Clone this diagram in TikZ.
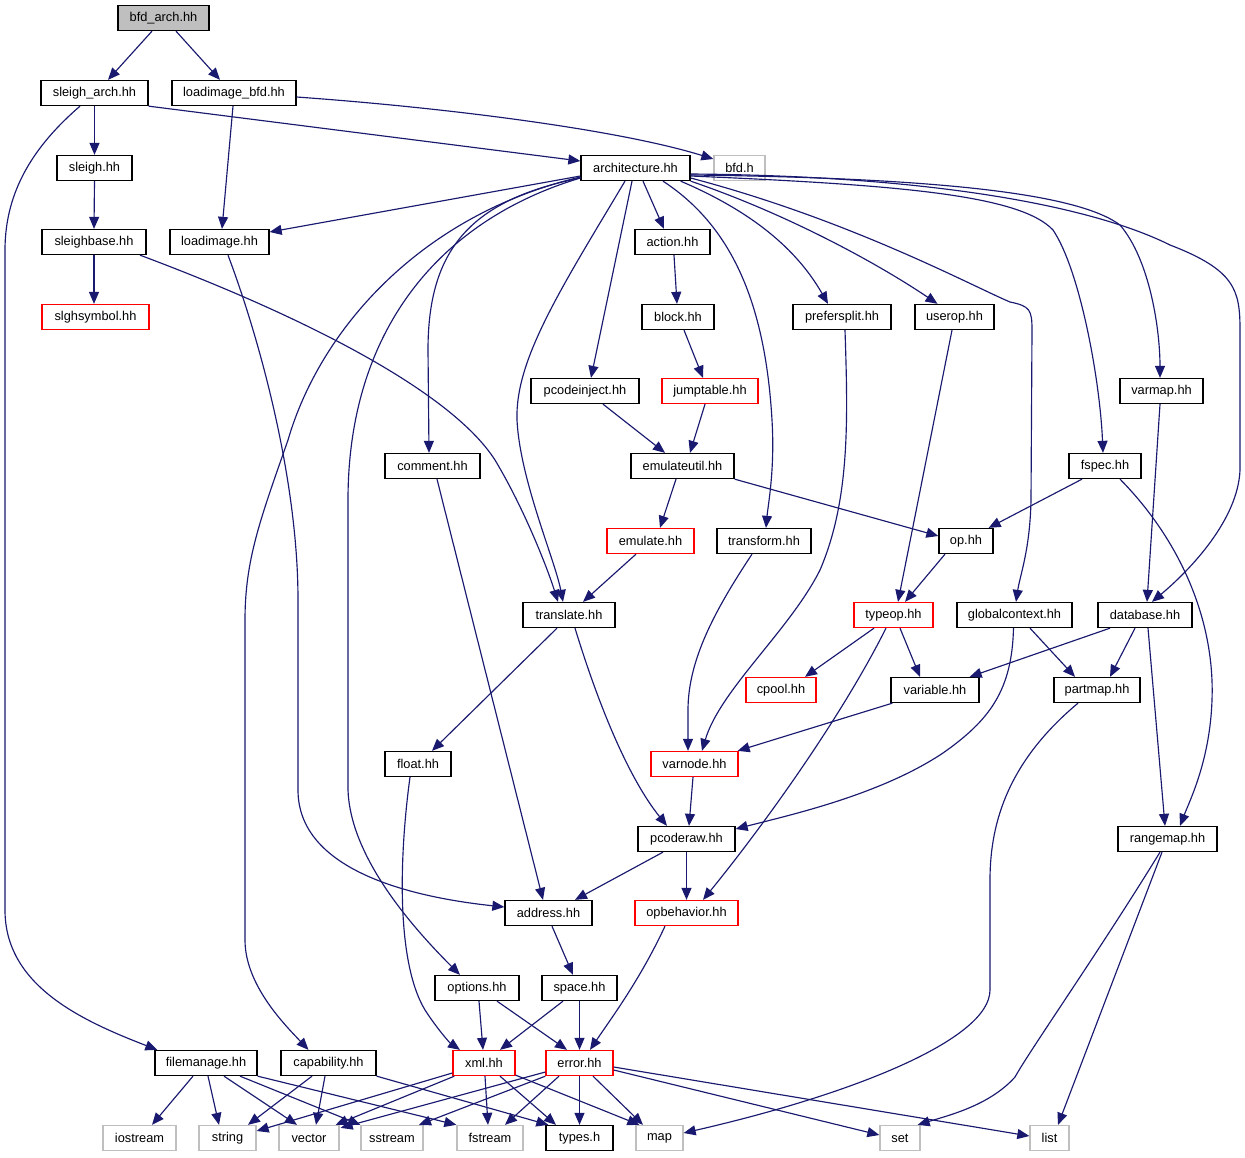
\documentclass[tikz,border=0pt]{standalone}
\usepackage{fontspec}
\setmainfont{Liberation Sans}
\usetikzlibrary{arrows.meta,calc}
\definecolor{edgeblue}{RGB}{25,25,112}
\definecolor{sysgray}{RGB}{191,191,191}
\definecolor{redline}{RGB}{255,0,0}
\tikzset{
  box/.style={rectangle, draw=black, line width=1.3pt, minimum height=25pt, inner sep=0pt,
    font=\fontsize{12.8}{14}\selectfont, text=black},
  redbox/.style={box, draw=redline},
  sysbox/.style={box, draw=sysgray},
  edge/.style={draw=edgeblue, line width=1.15pt, -{Triangle[length=12pt,width=10pt]}}
}
\begin{document}
\begin{tikzpicture}[x=1pt,y=-1pt]
\useasboundingbox[fill=white] (0,0) rectangle (1245,1157);
% row 18
\node[box,fill=sysgray,minimum width=91] (bfdarch) at (163.5,18) {bfd\_arch.hh};
% row 93
\node[box,minimum width=107] (sleigharch) at (94.5,93) {sleigh\_arch.hh};
\node[box,minimum width=124] (loadimagebfd) at (234,93) {loadimage\_bfd.hh};
% row 168
\node[box,minimum width=75] (sleigh) at (94.5,168) {sleigh.hh};
\node[box,minimum width=109] (arch) at (635.5,168) {architecture.hh};
\node[sysbox,minimum width=51] (bfdh) at (739.5,168) {bfd.h};
% row 242
\node[box,minimum width=104] (sleighbase) at (94,242) {sleighbase.hh};
\node[box,minimum width=99] (loadimage) at (219.5,242) {loadimage.hh};
\node[box,minimum width=75] (action) at (672.5,242) {action.hh};
% row 317
\node[redbox,minimum width=107] (slghsymbol) at (95.5,317) {slghsymbol.hh};
\node[box,minimum width=72] (block) at (678,317) {block.hh};
\node[box,minimum width=98] (prefersplit) at (842,317) {prefersplit.hh};
\node[box,minimum width=79] (userop) at (954.5,317) {userop.hh};
% row 391
\node[box,minimum width=108] (pcodeinject) at (585,391) {pcodeinject.hh};
\node[redbox,minimum width=96] (jumptable) at (710,391) {jumptable.hh};
\node[box,minimum width=83] (varmap) at (1161.5,391) {varmap.hh};
% row 466
\node[box,minimum width=95] (comment) at (432.5,466) {comment.hh};
\node[box,minimum width=103] (emulateutil) at (682.5,466) {emulateutil.hh};
\node[box,minimum width=72] (fspec) at (1105,466) {fspec.hh};
% row 541
\node[redbox,minimum width=87] (emulate) at (650.5,541) {emulate.hh};
\node[box,minimum width=94] (transform) at (764,541) {transform.hh};
\node[box,minimum width=54] (op) at (966,541) {op.hh};
% row 615
\node[box,minimum width=92] (translate) at (569,615) {translate.hh};
\node[redbox,minimum width=79] (typeop) at (893.5,615) {typeop.hh};
\node[box,minimum width=115] (globalcontext) at (1014.5,615) {globalcontext.hh};
\node[box,minimum width=94] (database) at (1145,615) {database.hh};
% row 690
\node[redbox,minimum width=70] (cpool) at (781,690) {cpool.hh};
\node[box,minimum width=88] (variable) at (935,690) {variable.hh};
\node[box,minimum width=86] (partmap) at (1097,690) {partmap.hh};
% row 764
\node[box,minimum width=66] (float) at (418,764) {float.hh};
\node[redbox,minimum width=87] (varnode) at (694.5,764) {varnode.hh};
% row 839
\node[box,minimum width=97] (pcoderaw) at (686.5,839) {pcoderaw.hh};
\node[box,minimum width=99] (rangemap) at (1167.5,839) {rangemap.hh};
% row 913
\node[box,minimum width=87] (address) at (548.5,913) {address.hh};
\node[redbox,minimum width=103] (opbehavior) at (686.5,913) {opbehavior.hh};
% row 988
\node[box,minimum width=84] (options) at (477,988) {options.hh};
\node[box,minimum width=75] (space) at (579.5,988) {space.hh};
% row 1063
\node[box,minimum width=102] (filemanage) at (206,1063) {filemanage.hh};
\node[box,minimum width=95] (capability) at (328.5,1063) {capability.hh};
\node[redbox,minimum width=62] (xml) at (484,1063) {xml.hh};
\node[redbox,minimum width=67] (error) at (579.5,1063) {error.hh};
% row 1138
\node[sysbox,minimum width=73] (iostream) at (139.5,1138) {iostream};
\node[sysbox,minimum width=57] (string) at (227.5,1138) {string};
\node[sysbox,minimum width=60] (vector) at (309,1138) {vector};
\node[sysbox,minimum width=62] (sstream) at (392,1138) {sstream};
\node[sysbox,minimum width=66] (fstream) at (490,1138) {fstream};
\node[box,minimum width=67] (types) at (579.5,1138) {types.h};
\node[sysbox,minimum width=47] (map) at (659.5,1138) {map};
\node[sysbox,minimum width=40] (set) at (900,1138) {set};
\node[sysbox,minimum width=39] (list) at (1049.5,1138) {list};

% ---------- edges ----------
\draw[edge] ($(bfdarch.south)+(-11.5,0)$) -- ($(sleigharch.north)+(13.5,0)$);
\draw[edge] ($(bfdarch.south)+(12.5,0)$) -- ($(loadimagebfd.north)+(-14,0)$);
\draw[edge] (sleigharch.south) -- (sleigh.north);
\draw[edge] (sleigharch.south east) -- ($(arch.west)+(0,-7)$);
\draw[edge] ($(sleigharch.south)+(-14.5,0)$) .. controls (35,145) and (5,190) .. (5,250) -- (5,910)
   .. controls (5,985) and (80,1020) .. ($(filemanage.north west)+(3,0)$);
\draw[edge] ($(loadimagebfd.south)+(-1,0)$) -- ($(loadimage.north)+(2.5,0)$);
\draw[edge] ($(loadimagebfd.east)+(0,4)$) .. controls (450,108) and (620,130) .. ($(bfdh.west)+(0,-9)$);
\draw[edge] (sleigh.south) -- (sleighbase.north);
\draw[edge] (sleighbase.south) -- ($(slghsymbol.north)+(-1.5,0)$);
\draw[edge] ($(sleighbase.south)+(46,0)$) .. controls (300,315) and (450,390) .. (495,460)
   .. controls (525,510) and (548,570) .. ($(translate.north)+(-11,0)$);
\draw[edge] ($(loadimage.south)+(8.5,0)$) .. controls (260,340) and (298,480) .. (298,600) -- (298,790)
   .. controls (298,870) and (410,897) .. ($(address.west)+(0,-6)$);
% architecture
\draw[edge] ($(arch.west)+(0,8)$) -- ($(loadimage.east)+(0,-10)$);
\draw[edge] ($(arch.south)+(7.5,0)$) -- ($(action.north)+(-8.5,0)$);
\draw[edge] ($(arch.south)+(-3.5,0)$) -- ($(pcodeinject.north)+(6,0)$);
\draw[edge] ($(arch.west)+(0,10)$) .. controls (470,200) and (428,250) .. (428,350) -- ($(comment.north)+(-3.5,0)$);
\draw[edge] ($(arch.west)+(0,9)$) .. controls (420,215) and (320,330) .. (288,440)
   .. controls (260,520) and (245,560) .. (245,620) -- (245,940)
   .. controls (245,985) and (285,1025) .. ($(capability.north)+(-20,0)$);
\draw[edge] ($(arch.west)+(0,10)$) .. controls (440,220) and (348,330) .. (348,500) -- (348,790)
   .. controls (350,850) and (400,915) .. ($(options.north)+(-17,0)$);
\draw[edge] ($(arch.south)+(-10.5,0)$) .. controls (560,290) and (515,360) .. (517,420)
   .. controls (520,480) and (555,560) .. ($(translate.north)+(-6,0)$);
\draw[edge] ($(arch.south)+(27.5,0)$) .. controls (730,225) and (765,300) .. (772,420)
   .. controls (775,470) and (768,505) .. ($(transform.north)+(2,0)$);
\draw[edge] ($(arch.south east)+(-10,0)$) .. controls (760,215) and (800,255) .. ($(prefersplit.north)+(-14,0)$);
\draw[edge] (arch.south east) .. controls (790,215) and (880,265) .. ($(userop.north)+(-17,0)$);
\draw[edge] ($(arch.east)+(0,10)$) .. controls (850,220) and (970,285) .. (1010,302)
   .. controls (1030,306) and (1032,310) .. (1032,330) -- (1031,500)
   .. controls (1030,550) and (1020,575) .. ($(globalcontext.north)+(1.5,0)$);
\draw[edge] ($(arch.east)+(0,8)$) .. controls (900,185) and (1020,195) .. (1053,230)
   .. controls (1080,270) and (1100,380) .. ($(fspec.north)+(-2,0)$);
\draw[edge] ($(arch.east)+(0,7)$) .. controls (950,178) and (1080,195) .. (1120,225)
   .. controls (1150,260) and (1160,330) .. ($(varmap.north)+(-1.5,0)$);
\draw[edge] ($(arch.east)+(0,6)$) .. controls (950,176) and (1100,210) .. (1170,245)
   .. controls (1235,270) and (1240,290) .. (1240,330) -- (1240,470)
   .. controls (1238,520) and (1190,570) .. ($(database.north)+(7,0)$);
% middle
\draw[edge] ($(action.south)+(1.5,0)$) -- ($(block.north)+(-1,0)$);
\draw[edge] ($(block.south)+(6,0)$) -- ($(jumptable.north)+(-7,0)$);
\draw[edge] ($(pcodeinject.south)+(18,0)$) -- ($(emulateutil.north)+(-17.5,0)$);
\draw[edge] ($(jumptable.south)+(-5,0)$) -- ($(emulateutil.north)+(7.5,0)$);
\draw[edge] ($(userop.south)+(-2.5,0)$) -- ($(typeop.north)+(4.5,0)$);
\draw[edge] ($(prefersplit.south)+(3,0)$) .. controls (848,420) and (850,500) .. (820,570)
   .. controls (790,630) and (720,690) .. ($(varnode.north)+(7.5,0)$);
\draw[edge] ($(varmap.south)+(-1.5,0)$) -- ($(database.north)+(2,0)$);
\draw[edge] ($(comment.south)+(4.5,0)$) -- ($(address.north)+(-5.5,0)$);
\draw[edge] ($(emulateutil.south)+(-6.5,0)$) -- ($(emulate.north)+(9.5,0)$);
\draw[edge] (emulateutil.south east) -- ($(op.west)+(0,-5)$);
\draw[edge] ($(fspec.south)+(-23,0)$) -- ($(op.north east)+(-5,0)$);
\draw[edge] ($(fspec.south)+(15,0)$) .. controls (1180,540) and (1215,620) .. (1212,700)
   .. controls (1210,760) and (1190,800) .. ($(rangemap.north)+(12.5,0)$);
\draw[edge] ($(emulate.south)+(-14.5,0)$) -- ($(translate.north)+(14,0)$);
\draw[edge] ($(transform.south)+(-12,0)$) .. controls (715,610) and (688,660) .. (688,710) -- ($(varnode.north)+(-6.5,0)$);
\draw[edge] ($(op.south)+(-21,0)$) -- ($(typeop.north)+(11.5,0)$);
\draw[edge] ($(translate.south)+(-12,0)$) -- ($(float.north)+(14,0)$);
\draw[edge] ($(translate.south)+(6,0)$) .. controls (600,710) and (630,780) .. ($(pcoderaw.north)+(-19.5,0)$);
\draw[edge] ($(typeop.south)+(-19.5,0)$) -- ($(cpool.north)+(24,0)$);
\draw[edge] ($(typeop.south)+(6.5,0)$) -- ($(variable.north)+(-15,0)$);
\draw[edge] ($(typeop.south)+(-7.5,0)$) .. controls (840,720) and (760,830) .. ($(opbehavior.north)+(16.5,0)$);
\draw[edge] ($(globalcontext.south)+(15.5,0)$) -- ($(partmap.north)+(-22,0)$);
\draw[edge] ($(globalcontext.south)+(-1,0)$) .. controls (1012,690) and (990,720) .. (943,753)
   .. controls (880,795) and (790,815) .. ($(pcoderaw.east)+(0,-10)$);
\draw[edge] ($(database.south)+(-35,0)$) -- ($(variable.north east)+(-10,0)$);
\draw[edge] ($(database.south)+(-10,0)$) -- ($(partmap.north)+(13,0)$);
\draw[edge] ($(database.south)+(3,0)$) -- ($(rangemap.north)+(-2.5,0)$);
\draw[edge] ($(variable.south west)+(2,0)$) -- ($(varnode.north east)+(-1,0)$);
\draw[edge] ($(partmap.south)+(-19,0)$) .. controls (1010,760) and (990,820) .. (990,880) -- (990,990)
   .. controls (990,1040) and (850,1095) .. ($(map.east)+(0,-5)$);
\draw[edge] ($(float.south)+(-8,0)$) .. controls (400,850) and (395,960) .. (425,1010)
   .. controls (438,1030) and (450,1043) .. ($(xml.north)+(-24,0)$);
\draw[edge] ($(varnode.south)+(-1.5,0)$) -- ($(pcoderaw.north)+(2.5,0)$);
\draw[edge] ($(pcoderaw.south)+(-23.5,0)$) -- ($(address.north)+(26.5,0)$);
\draw[edge] (pcoderaw.south) -- (opbehavior.north);
\draw[edge] ($(rangemap.south)+(-7.5,0)$) .. controls (1100,950) and (1030,1050) .. (1015,1077)
   .. controls (990,1105) and (950,1115) .. ($(set.north east)+(-3,0)$);
\draw[edge] ($(rangemap.south)+(-5.5,0)$) -- ($(list.north)+(8.5,0)$);
\draw[edge] ($(address.south)+(3.5,0)$) -- ($(space.north)+(-6.5,0)$);
\draw[edge] ($(opbehavior.south)+(-21.5,0)$) .. controls (640,980) and (610,1020) .. ($(error.north)+(10.5,0)$);
\draw[edge] ($(options.south)+(2,0)$) -- ($(xml.north)+(-1,0)$);
\draw[edge] ($(options.south)+(20,0)$) -- ($(error.north)+(-12.5,0)$);
\draw[edge] ($(space.south)+(-16.5,0)$) -- ($(xml.north)+(16,0)$);
\draw[edge] (space.south) -- (error.north);
% bottom
\draw[edge] ($(filemanage.south)+(-13,0)$) -- ($(iostream.north)+(12.5,0)$);
\draw[edge] ($(filemanage.south)+(2,0)$) -- ($(string.north)+(-8.5,0)$);
\draw[edge] ($(filemanage.south)+(18,0)$) -- ($(vector.north)+(-12,0)$);
\draw[edge] ($(filemanage.south)+(34,0)$) -- (sstream.north west);
\draw[edge] (filemanage.south east) -- (fstream.north west);
\draw[edge] ($(capability.south)+(-16.5,0)$) -- ($(string.north)+(20.5,0)$);
\draw[edge] ($(capability.south)+(-3.5,0)$) -- ($(vector.north)+(7,0)$);
\draw[edge] (capability.south east) -- ($(types.north west)+(3,0)$);
\draw[edge] ($(xml.west)+(0,10)$) -- ($(string.east)+(0,-7)$);
\draw[edge] ($(xml.south west)+(2,0)$) -- ($(vector.north east)+(-4,0)$);
\draw[edge] ($(xml.south)+(1,0)$) -- ($(fstream.north)+(-2,0)$);
\draw[edge] ($(xml.south)+(16,0)$) -- ($(types.north)+(-23.5,0)$);
\draw[edge] ($(xml.south east)+(0,-1)$) -- ($(map.north west)+(4,0)$);
\draw[edge] ($(error.west)+(0,9)$) -- ($(vector.north east)+(1,3)$);
\draw[edge] (error.south west) -- ($(sstream.north)+(27,0)$);
\draw[edge] ($(error.south)+(-20.5,0)$) -- ($(fstream.north)+(15,0)$);
\draw[edge] (error.south) -- (types.north);
\draw[edge] ($(error.south)+(13.5,0)$) -- ($(map.north)+(-16.5,0)$);
\draw[edge] ($(error.east)+(0,7)$) -- ($(set.west)+(0,-3)$);
\draw[edge] ($(error.east)+(0,4)$) -- ($(list.west)+(0,-2)$);
\end{tikzpicture}
\end{document}
